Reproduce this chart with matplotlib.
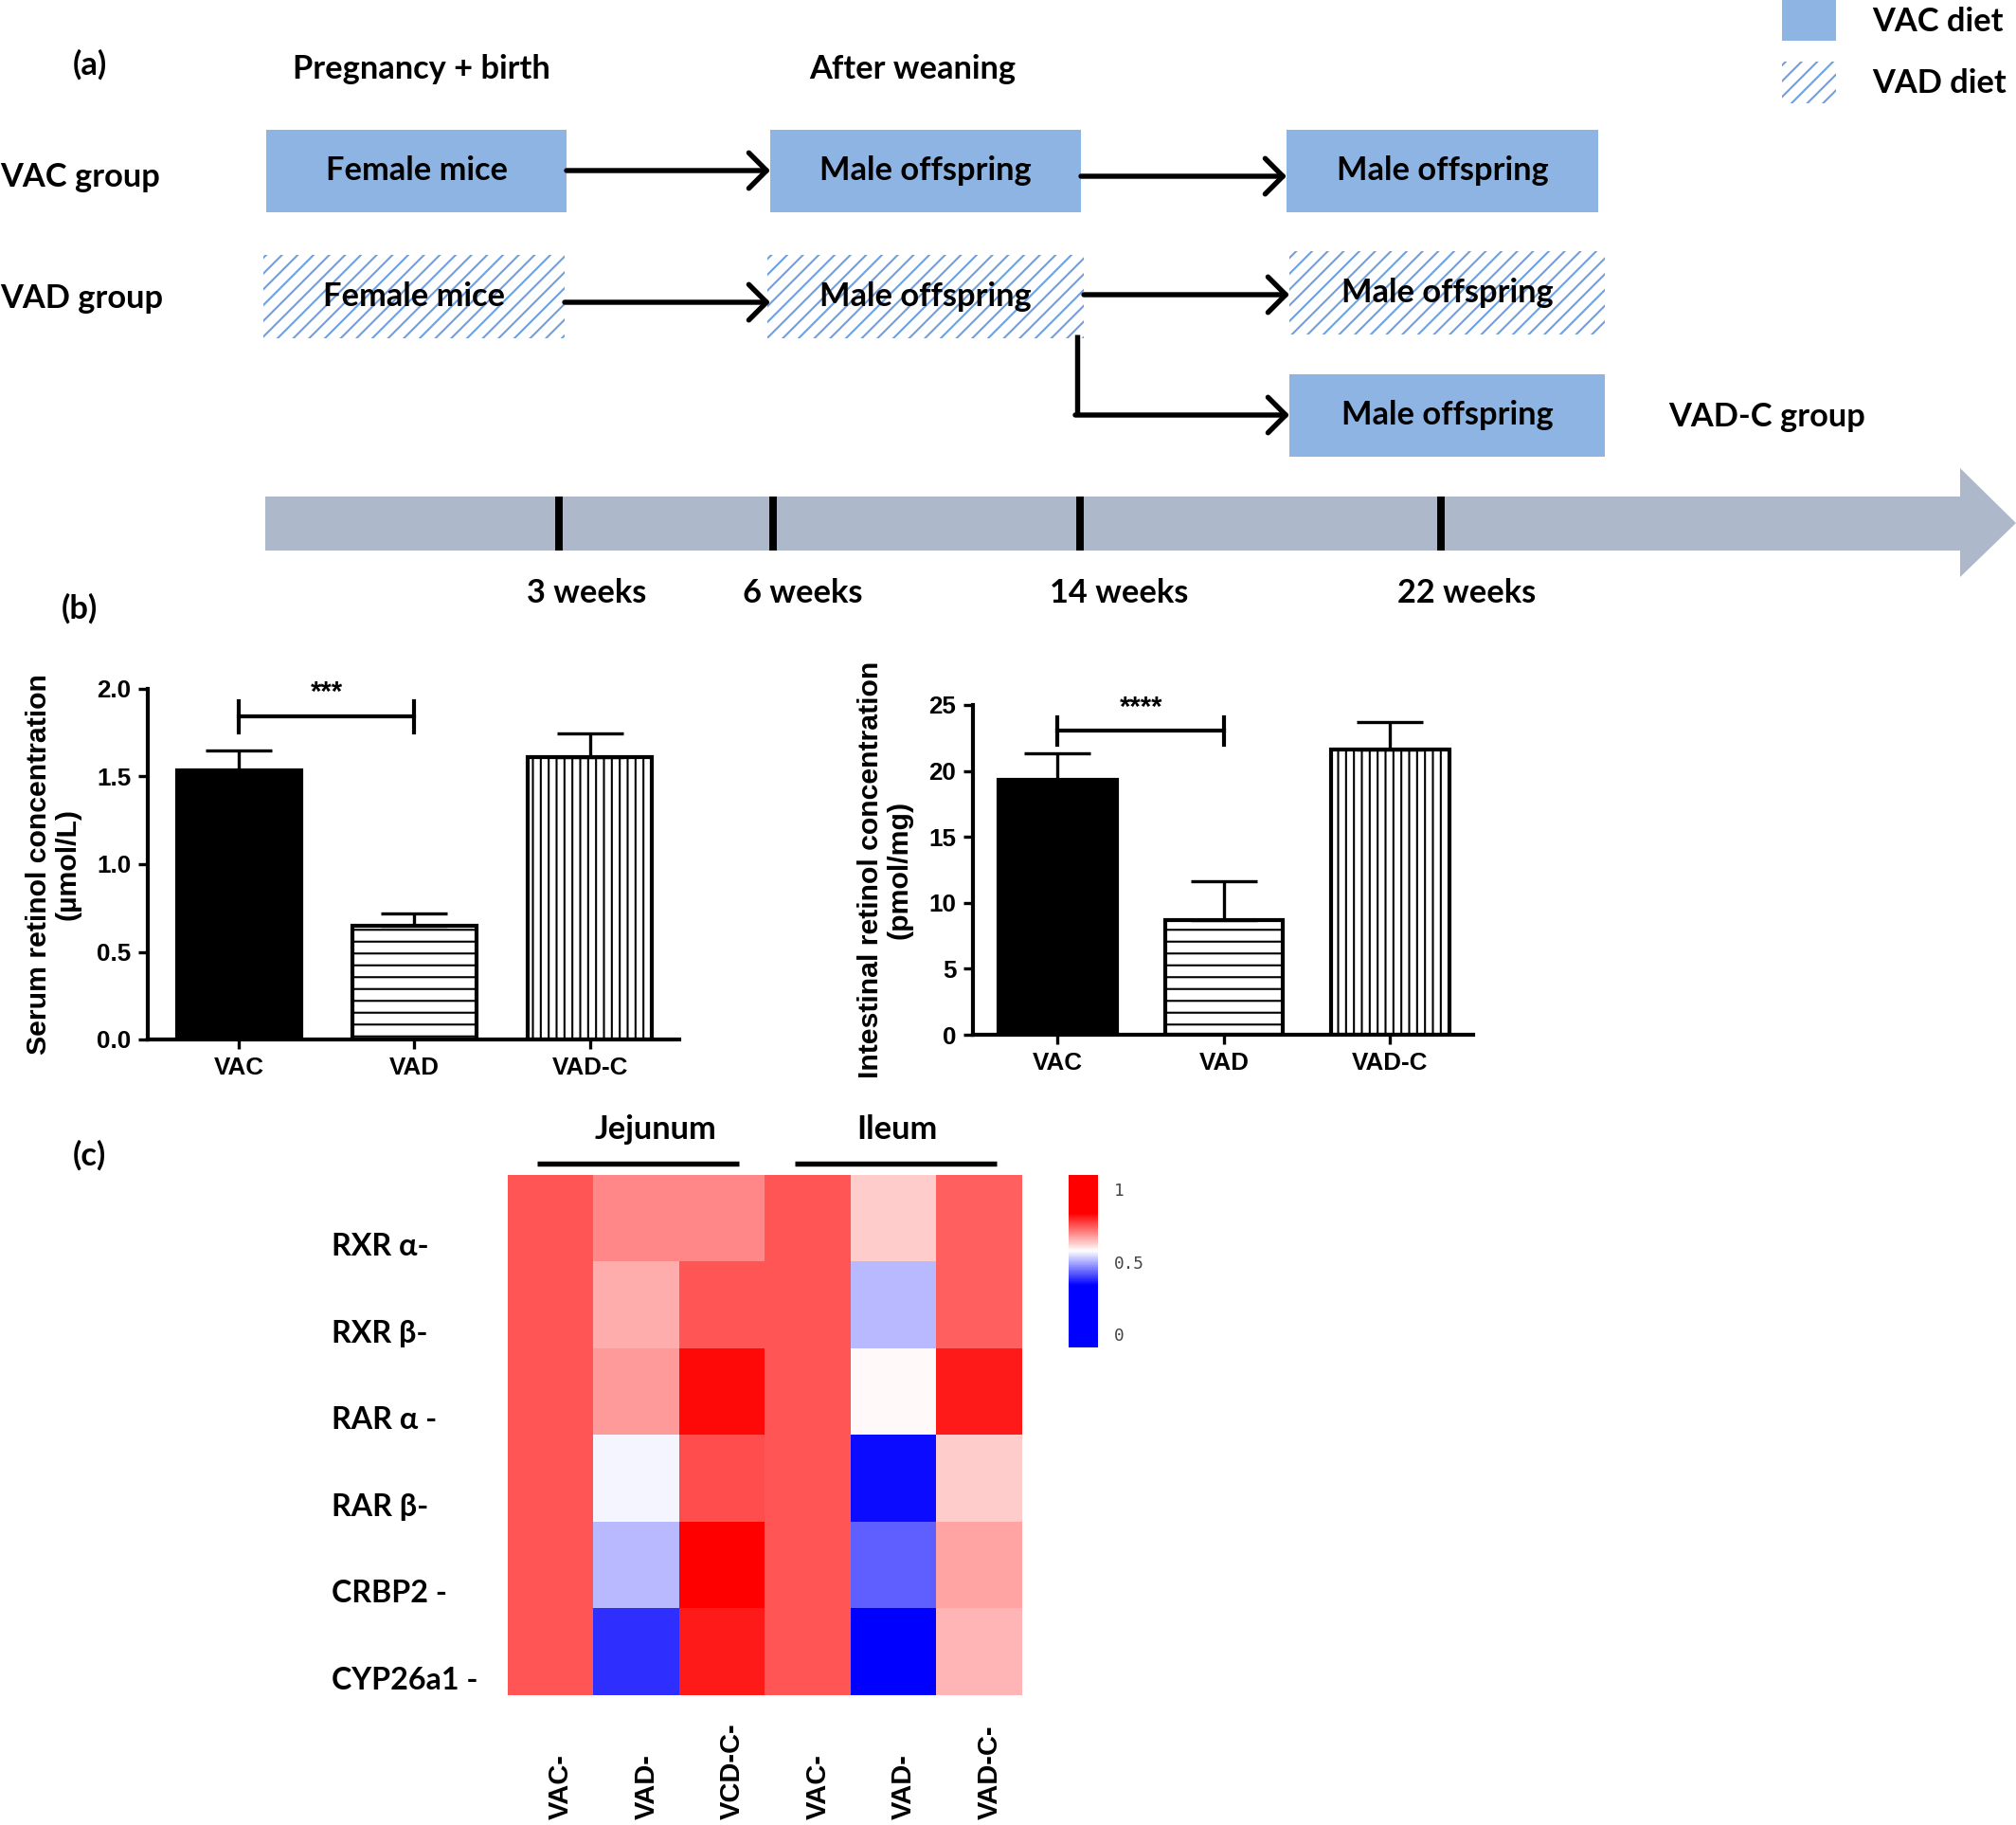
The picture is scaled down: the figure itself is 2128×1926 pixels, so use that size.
import numpy as np
import matplotlib
matplotlib.use("Agg")
import matplotlib.pyplot as plt
from matplotlib.patches import Rectangle, Polygon
from matplotlib.colors import LinearSegmentedColormap
import matplotlib.transforms as mtransforms

# ---- data ----
groups = ["VAC", "VAD", "VAD-C"]
serum_mean = [1.535, 0.65, 1.613]
serum_err = [0.115, 0.07, 0.135]
intest_mean = [19.33, 8.69, 21.62]
intest_err = [2.0, 2.98, 2.07]
serum_sig = "***"
intest_sig = "****"

genes = ["RXR α-", "RXR β-", "RAR α -", "RAR β-", "CRBP2 -", "CYP26a1 -"]
heat_cols = ["VAC-", "VAD-", "VCD-C-", "VAC-", "VAD-", "VAD-C-"]
# columns: jejunum VAC, VAD, VCD-C, ileum VAC, VAD, VAD-C
heat_values = [
    [0.75, 0.70, 0.70, 0.75, 0.63, 0.74],
    [0.75, 0.66, 0.75, 0.75, 0.51, 0.74],
    [0.75, 0.68, 0.83, 0.75, 0.58, 0.81],
    [0.75, 0.57, 0.76, 0.75, 0.35, 0.63],
    [0.75, 0.51, 0.86, 0.75, 0.43, 0.67],
    [0.75, 0.38, 0.81, 0.75, 0.20, 0.65],
]
week_labels = ["3 weeks", "6 weeks", "14 weeks", "22 weeks"]

W, H = 2128, 1926
DPI = 150
CAL = ["Lato", "DejaVu Sans"]
ARIAL = ["Liberation Sans", "DejaVu Sans"]
BLUE = "#8DB4E2"
HATCH_BLUE = "#6F9FE0"

plt.rcParams["hatch.linewidth"] = 1.0

fig = plt.figure(figsize=(W / DPI, H / DPI), dpi=DPI)


def frac(x0, y0, x1, y1):
    return [x0 / W, 1 - y1 / H, (x1 - x0) / W, (y1 - y0) / H]


# overlay for the schematic (pixel coordinates)
ax0 = fig.add_axes([0, 0, 1, 1])
ax0.set_xlim(0, W)
ax0.set_ylim(H, 0)
ax0.axis("off")

fs = 16.5


def box(x0, y0, x1, y1, text, hatched=False):
    if hatched:
        r = Rectangle((x0, y0), x1 - x0, y1 - y0, facecolor="white",
                      edgecolor=HATCH_BLUE, hatch="///", lw=0)
    else:
        r = Rectangle((x0, y0), x1 - x0, y1 - y0, facecolor=BLUE, edgecolor="none")
    ax0.add_patch(r)
    if text:
        ax0.text((x0 + x1) / 2, (y0 + y1) / 2, text, ha="center", va="center",
                 fontsize=fs, fontweight="bold", family=CAL)


def arrow(x0, x1, y):
    ax0.annotate("", xy=(x1, y), xytext=(x0, y),
                 arrowprops=dict(arrowstyle="->,head_length=0.45,head_width=0.45",
                                 lw=2.6, color="black", shrinkA=0, shrinkB=0,
                                 mutation_scale=20))


ax0.text(95, 68, "(a)", ha="center", va="center", fontsize=fs, fontweight="bold", family=CAL)
ax0.text(445, 73, "Pregnancy + birth", ha="center", va="center", fontsize=fs, fontweight="bold", family=CAL)
ax0.text(963, 73, "After weaning", ha="center", va="center", fontsize=fs, fontweight="bold", family=CAL)
ax0.text(0, 187, "VAC group", ha="left", va="center", fontsize=fs, fontweight="bold", family=CAL)
ax0.text(0, 315, "VAD group", ha="left", va="center", fontsize=fs, fontweight="bold", family=CAL)

box(281, 137, 598, 224, "Female mice")
box(813, 137, 1141, 224, "Male offspring")
box(1358, 137, 1687, 224, "Male offspring")
box(278, 269, 596, 357, "Female mice", hatched=True)
box(810, 269, 1144, 357, "Male offspring", hatched=True)
box(1361, 265, 1694, 353, "Male offspring", hatched=True)
box(1361, 395, 1694, 482, "Male offspring")
ax0.text(1865, 440, "VAD-C group", ha="center", va="center", fontsize=fs, fontweight="bold", family=CAL)

arrow(598, 813, 180)
arrow(1141, 1358, 186)
arrow(596, 813, 319)
arrow(1144, 1361, 311)
ax0.plot([1137, 1137], [353, 438], color="black", lw=2.6, solid_capstyle="butt")
arrow(1135, 1361, 438)

# legend
box(1881, 0, 1938, 43, "")
box(1881, 65, 1938, 109, "", hatched=True)
ax0.text(1976, 23, "VAC diet", ha="left", va="center", fontsize=fs, fontweight="bold", family=CAL)
ax0.text(1976, 88, "VAD diet", ha="left", va="center", fontsize=fs, fontweight="bold", family=CAL)

# timeline
ax0.add_patch(Rectangle((280, 524), 2070 - 280, 57, facecolor="#ADB9CA", edgecolor="none"))
ax0.add_patch(Polygon([(2069, 494), (2128, 552), (2069, 609)], closed=True,
                      facecolor="#ADB9CA", edgecolor="none"))
for xt in [590, 816, 1140, 1521]:
    ax0.plot([xt, xt], [524, 581], color="black", lw=3.8, solid_capstyle="butt")
for xc, lab in zip([619, 847, 1181, 1548], week_labels):
    ax0.text(xc, 626, lab, ha="center", va="center", fontsize=fs, fontweight="bold", family=CAL)

ax0.text(84, 642, "(b)", ha="center", va="center", fontsize=fs, fontweight="bold", family=CAL)
ax0.text(94, 1219, "(c)", ha="center", va="center", fontsize=fs, fontweight="bold", family=CAL)


# ---- (b) bar charts ----
def bar_panel(rect, means, errs, ymax, ystep, ylabel, sig, br_y, cap_lo, cap_hi, sig_y, xlim, fmt):
    ax = fig.add_axes(frac(*rect))
    x = np.arange(len(groups))
    ax.bar(x[0], means[0], width=0.71, color="black", edgecolor="black", lw=2)
    ax.bar(x[1], means[1], width=0.71, color="white", edgecolor="black", lw=2, hatch="--")
    ax.bar(x[2], means[2], width=0.71, color="white", edgecolor="black", lw=2, hatch="|||")
    ax.errorbar(x, means, yerr=[np.zeros(len(errs)), errs], fmt="none", ecolor="black",
                elinewidth=1.6, capsize=17, capthick=1.6)
    ax.plot([0, 1], [br_y, br_y], color="black", lw=2)
    ax.plot([0, 0], [cap_lo, cap_hi], color="black", lw=2)
    ax.plot([1, 1], [cap_lo, cap_hi], color="black", lw=2)
    ax.text(0.5, sig_y, sig, ha="center", va="center", fontsize=14, fontweight="bold", family=ARIAL)
    ax.set_xlim(*xlim)
    ax.set_ylim(0, ymax)
    ticks = np.arange(0, ymax + ystep / 2, ystep)
    ax.set_yticks(ticks)
    ax.set_yticklabels([fmt.format(v) for v in ticks])
    ax.set_xticks(x)
    ax.set_xticklabels(groups)
    for s in ["top", "right"]:
        ax.spines[s].set_visible(False)
    for s in ["left", "bottom"]:
        ax.spines[s].set_linewidth(2)
    ax.tick_params(width=1.6, length=5, direction="out", labelsize=12.5)
    for t in ax.get_xticklabels() + ax.get_yticklabels():
        t.set_fontweight("bold")
        t.set_family(ARIAL)
    ax.set_ylabel(ylabel, fontsize=14.5, fontweight="bold", family=ARIAL, labelpad=8,
                  linespacing=1.1)
    return ax


bar_panel((156, 727, 717, 1097), serum_mean, serum_err, 2.0, 0.5,
          "Serum retinol concentration\n(µmol/L)", serum_sig, 1.845, 1.75, 1.93, 1.98,
          (-0.52, 2.51), "{:.1f}")
bar_panel((1027, 744, 1555, 1092), intest_mean, intest_err, 25, 5,
          "Intestinal retinol concentration\n(pmol/mg)", intest_sig, 23.05, 21.95, 24.1, 24.76,
          (-0.51, 2.50), "{:.0f}")

# ---- (c) heatmap ----
cmap = LinearSegmentedColormap.from_list(
    "bwr_ref", [(0.0, "#0000FF"), (0.36, "#0000FF"), (0.56, "#FFFFFF"),
                (0.78, "#FF0000"), (1.0, "#FF0000")])
axh = fig.add_axes(frac(536, 1240, 1079, 1789))
im = axh.imshow(np.array(heat_values), cmap=cmap, vmin=-0.09, vmax=1.1, aspect="auto",
                interpolation="nearest")
axh.set_xticks([])
axh.set_yticks([])
for s in axh.spines.values():
    s.set_visible(False)

blend_y = mtransforms.blended_transform_factory(axh.transAxes, axh.transData)
for i, g in enumerate(genes):
    axh.text(-0.3425, i + 0.33, g, transform=blend_y, ha="left", va="center",
             fontsize=15.5, fontweight="bold", family=CAL)
blend_x = mtransforms.blended_transform_factory(axh.transData, axh.transAxes)
for j, c in enumerate(heat_cols):
    axh.text(j + 0.12, -0.239, c, transform=blend_x, rotation=90, ha="center", va="bottom",
             fontsize=14, fontweight="bold", family=ARIAL)

# tissue headers
for label, xa, xb, xt in [("Jejunum", -0.16, 2.20, 1.22), ("Ileum", 2.85, 5.20, 4.04)]:
    axh.plot([xa, xb], [-0.63, -0.63], color="black", lw=2.6, clip_on=False,
             solid_capstyle="butt")
    axh.text(xt, -1.02, label, ha="center", va="center", fontsize=16.5,
             fontweight="bold", family=CAL)
axh.set_xlim(-0.5, 5.5)
axh.set_ylim(5.5, -0.5)

cax = fig.add_axes(frac(1128, 1240, 1159, 1422))
cb = fig.colorbar(im, cax=cax, ticks=[0, 0.5, 1])
cb.outline.set_visible(False)
cb.ax.set_yticklabels(["0", "0.5", "1"])
cb.ax.tick_params(length=0, pad=8, labelsize=8.5, labelcolor="#444444")
for t in cb.ax.get_yticklabels():
    t.set_family("DejaVu Sans Mono")

fig.savefig("out.png", dpi=DPI)
